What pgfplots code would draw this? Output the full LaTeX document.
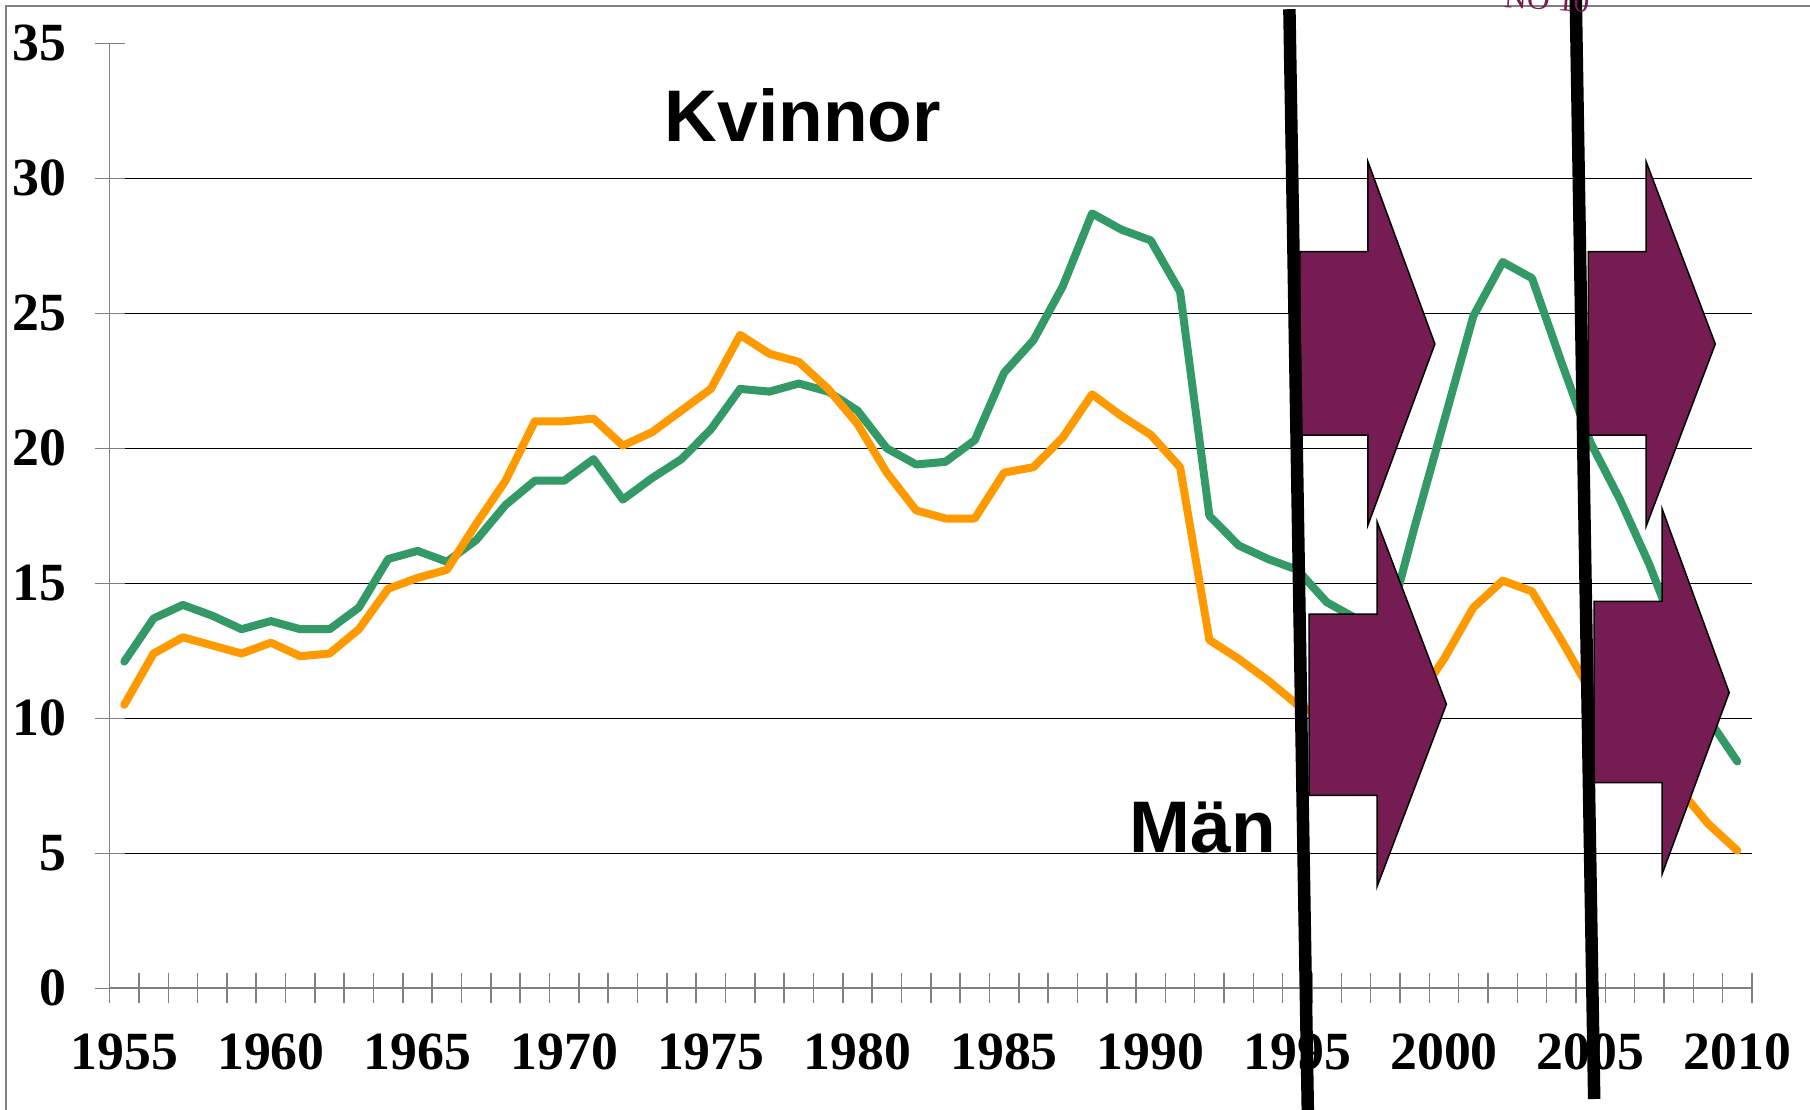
\documentclass[border=0pt]{standalone}
\usepackage{pgfplots}
\pgfplotsset{compat=1.18}
\usepackage{fontspec}
\setmainfont{Liberation Serif}
\newfontfamily\arialf{Liberation Sans}
\definecolor{grn}{HTML}{339966}
\definecolor{org}{HTML}{FF9900}
\definecolor{pur}{HTML}{751C52}
\definecolor{axgray}{HTML}{808080}
\begin{document}
\begin{tikzpicture}
\begin{scope}[x=0.1mm,y=-0.1mm]
\draw[axgray, line width=0.2mm] (5.7,1200) -- (5.7,5.7) -- (1900,5.7);
\end{scope}
\begin{axis}[
  at={(10.96mm,-98.83mm)}, anchor=south west,
  scale only axis, width=164.24mm, height=94.5mm,
  xmin=1954.5, xmax=2010.5, ymin=0, ymax=35,
  axis lines=left, axis line style={-, draw=axgray, line width=0.18mm},
  tick align=center,
  ytick={5,10,...,30}, extra y ticks={0,35}, extra y tick style={grid=none},
  ymajorgrids, major grid style={draw=black, line width=0.13mm},
  major tick length=3mm,
  tick style={draw=axgray, line width=0.15mm},
  xtick={1954.5,1955.5,...,2010.5}, xticklabels={},
  extra x ticks={1955,1960,...,2010},
  extra x tick labels={1955,1960,1965,1970,1975,1980,1985,1990,1995,2000,2005,2010},
  extra x tick style={major tick length=0pt, xticklabel style={anchor=north, yshift=-3.3mm}},
  /pgf/number format/assume math mode=true,
  ticklabel style={font=\bfseries\fontsize{15.3}{15.3}\selectfont},
  yticklabel style={anchor=east, xshift=-1.6mm},
]
\addplot[grn, line width=0.8mm, line join=round, line cap=round] coordinates {
(1955,12.1)(1956,13.7)(1957,14.2)(1958,13.8)(1959,13.3)(1960,13.6)(1961,13.3)(1962,13.3)
(1963,14.1)(1964,15.9)(1965,16.2)(1966,15.8)(1967,16.6)(1968,17.9)(1969,18.8)(1970,18.8)
(1971,19.6)(1972,18.1)(1973,18.9)(1974,19.6)(1975,20.7)(1976,22.2)(1977,22.1)(1978,22.4)
(1979,22.1)(1980,21.4)(1981,20.0)(1982,19.4)(1983,19.5)(1984,20.3)(1985,22.8)(1986,24.0)
(1987,26.0)(1988,28.7)(1989,28.1)(1990,27.7)(1991,25.8)(1992,17.5)(1993,16.4)(1994,15.9)
(1995,15.5)(1996,14.3)(1997,13.7)(1998,13.0)(1999,17.1)(2000,21.0)(2001,24.9)(2002,26.9)
(2003,26.3)(2004,23.2)(2005,20.2)(2006,18.1)(2007,15.7)(2008,12.9)(2009,10.0)(2010,8.4)
};
\addplot[org, line width=0.8mm, line join=round, line cap=round] coordinates {
(1955,10.5)(1956,12.4)(1957,13.0)(1958,12.7)(1959,12.4)(1960,12.8)(1961,12.3)(1962,12.4)
(1963,13.3)(1964,14.8)(1965,15.2)(1966,15.5)(1967,17.2)(1968,18.8)(1969,21.0)(1970,21.0)
(1971,21.1)(1972,20.1)(1973,20.6)(1974,21.4)(1975,22.2)(1976,24.2)(1977,23.5)(1978,23.2)
(1979,22.2)(1980,20.9)(1981,19.1)(1982,17.7)(1983,17.4)(1984,17.4)(1985,19.1)(1986,19.3)
(1987,20.4)(1988,22.0)(1989,21.2)(1990,20.5)(1991,19.3)(1992,12.9)(1993,12.2)(1994,11.4)
(1995,10.5)(1996,10.0)(1997,9.6)(1998,9.8)(1999,10.6)(2000,12.2)(2001,14.1)(2002,15.1)
(2003,14.7)(2004,12.9)(2005,11.0)(2006,9.8)(2007,8.6)(2008,7.4)(2009,6.1)(2010,5.1)
};
\end{axis}
\begin{scope}[x=0.1mm,y=-0.1mm]
\tikzset{parrow/.style={fill=pur, draw=black, line width=0.15mm, line join=miter}}
% upper left
\draw[parrow] (1299.8,251.6) -- (1367.9,251.6) -- (1367.9,161.6) -- (1434.9,344) -- (1367.9,525.2) -- (1367.9,435.2) -- (1299.8,435.2) -- cycle;
% lower left
\draw[parrow] (1309,614.1) -- (1377.1,614.1) -- (1377.1,521.8) -- (1446.4,704.2) -- (1377.1,886.5) -- (1377.1,795.3) -- (1309,795.3) -- cycle;
% upper right
\draw[parrow] (1588.4,251.6) -- (1646.1,251.6) -- (1646.1,161.6) -- (1715.3,344) -- (1646.1,526.4) -- (1646.1,435.2) -- (1588.4,435.2) -- cycle;
% lower right
\draw[parrow] (1594.2,601.4) -- (1662.2,601.4) -- (1662.2,509.1) -- (1729.2,692.6) -- (1662.2,873.8) -- (1662.2,782.6) -- (1594.2,782.6) -- cycle;
\draw[black, line width=1.25mm] (1289.4,9.2) -- (1307.9,1115);
\draw[black, line width=1.25mm] (1575.7,-5) -- (1594.2,1099);
\node[anchor=base west, inner sep=0pt, font=\arialf\bfseries\fontsize{20.8}{20.8}\selectfont] at (664,141) {Kvinnor};
\node[anchor=base west, inner sep=0pt, font=\arialf\bfseries\fontsize{20.8}{20.8}\selectfont] at (1129,852) {Män};
\node[anchor=base west, inner sep=0pt, text=pur, font=\fontsize{9}{9}\selectfont, rotate=-4] at (1503,7) {NO 10};
\pgfresetboundingbox
\useasboundingbox (0,0) rectangle (1810,1110);
\end{scope}
\end{tikzpicture}
\end{document}
